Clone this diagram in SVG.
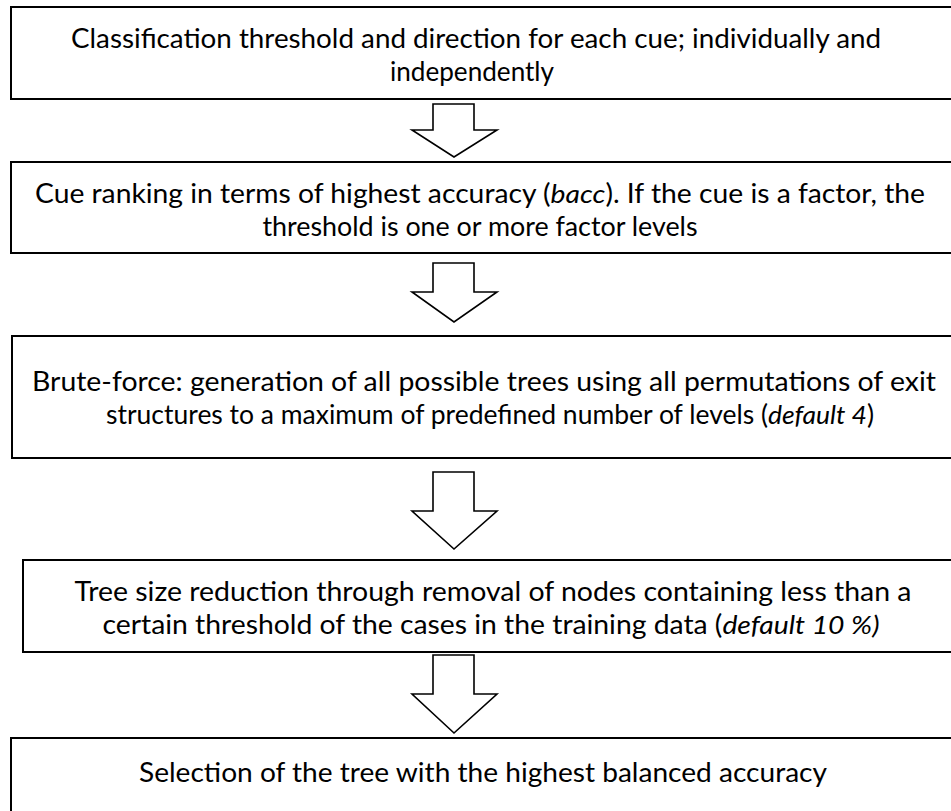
<svg xmlns="http://www.w3.org/2000/svg" width="951" height="811" viewBox="0 0 951 811">
<defs>
<style>
.box{fill:#fff;stroke:#000;stroke-width:2}
.arr{fill:#fff;stroke:#000;stroke-width:1.6;stroke-linejoin:miter}
text{font-family:"Lato","Open Sans",sans-serif;font-size:26px;fill:#000;text-anchor:middle}
.i{font-style:italic}
</style>
</defs>
<rect width="951" height="811" fill="#fff"/>
<g id="connectors">
<polygon class="arr" points="433,104 474,104 474,130 497,130 454,157 412,130 433,130"/>
<polygon class="arr" points="433,263 474,263 474,292 497,292 454,322 412,292 433,292"/>
<polygon class="arr" points="433,472 474,472 474,511 497,511 454,549 412,511 433,511"/>
<polygon class="arr" points="433,655 474,655 474,694 497,694 454,733 412,694 433,694"/>
</g>
<g id="node1">
<rect class="box" x="11" y="7" width="960" height="92"/>
<text x="476" y="48" textLength="810" lengthAdjust="spacingAndGlyphs">Classification threshold and direction for each cue; individually and</text>
<text x="472" y="81" textLength="164" lengthAdjust="spacingAndGlyphs">independently</text>
</g>
<g id="node2">
<rect class="box" x="11" y="162" width="960" height="91"/>
<text x="480" y="203" textLength="890" lengthAdjust="spacingAndGlyphs">Cue ranking in terms of highest accuracy (<tspan class="i">bacc</tspan>). If the cue is a factor, the</text>
<text x="480" y="236" textLength="435" lengthAdjust="spacingAndGlyphs">threshold is one or more factor levels</text>
</g>
<g id="node3">
<rect class="box" x="12" y="336" width="960" height="122"/>
<text x="484" y="391" textLength="904" lengthAdjust="spacingAndGlyphs">Brute-force: generation of all possible trees using all permutations of exit</text>
<text x="490" y="424" textLength="768" lengthAdjust="spacingAndGlyphs">structures to a maximum of predefined number of levels (<tspan class="i">default 4</tspan>)</text>
</g>
<g id="node4">
<rect class="box" x="23" y="560" width="960" height="92"/>
<text x="493" y="601" textLength="837" lengthAdjust="spacingAndGlyphs">Tree size reduction through removal of nodes containing less than a</text>
<text x="491" y="634" textLength="777" lengthAdjust="spacingAndGlyphs">certain threshold of the cases in the training data (<tspan class="i">default 10 %)</tspan></text>
</g>
<g id="node5">
<rect class="box" x="11" y="738" width="960" height="92"/>
<text x="483" y="782" textLength="688" lengthAdjust="spacingAndGlyphs">Selection of the tree with the highest balanced accuracy</text>
</g>
</svg>
